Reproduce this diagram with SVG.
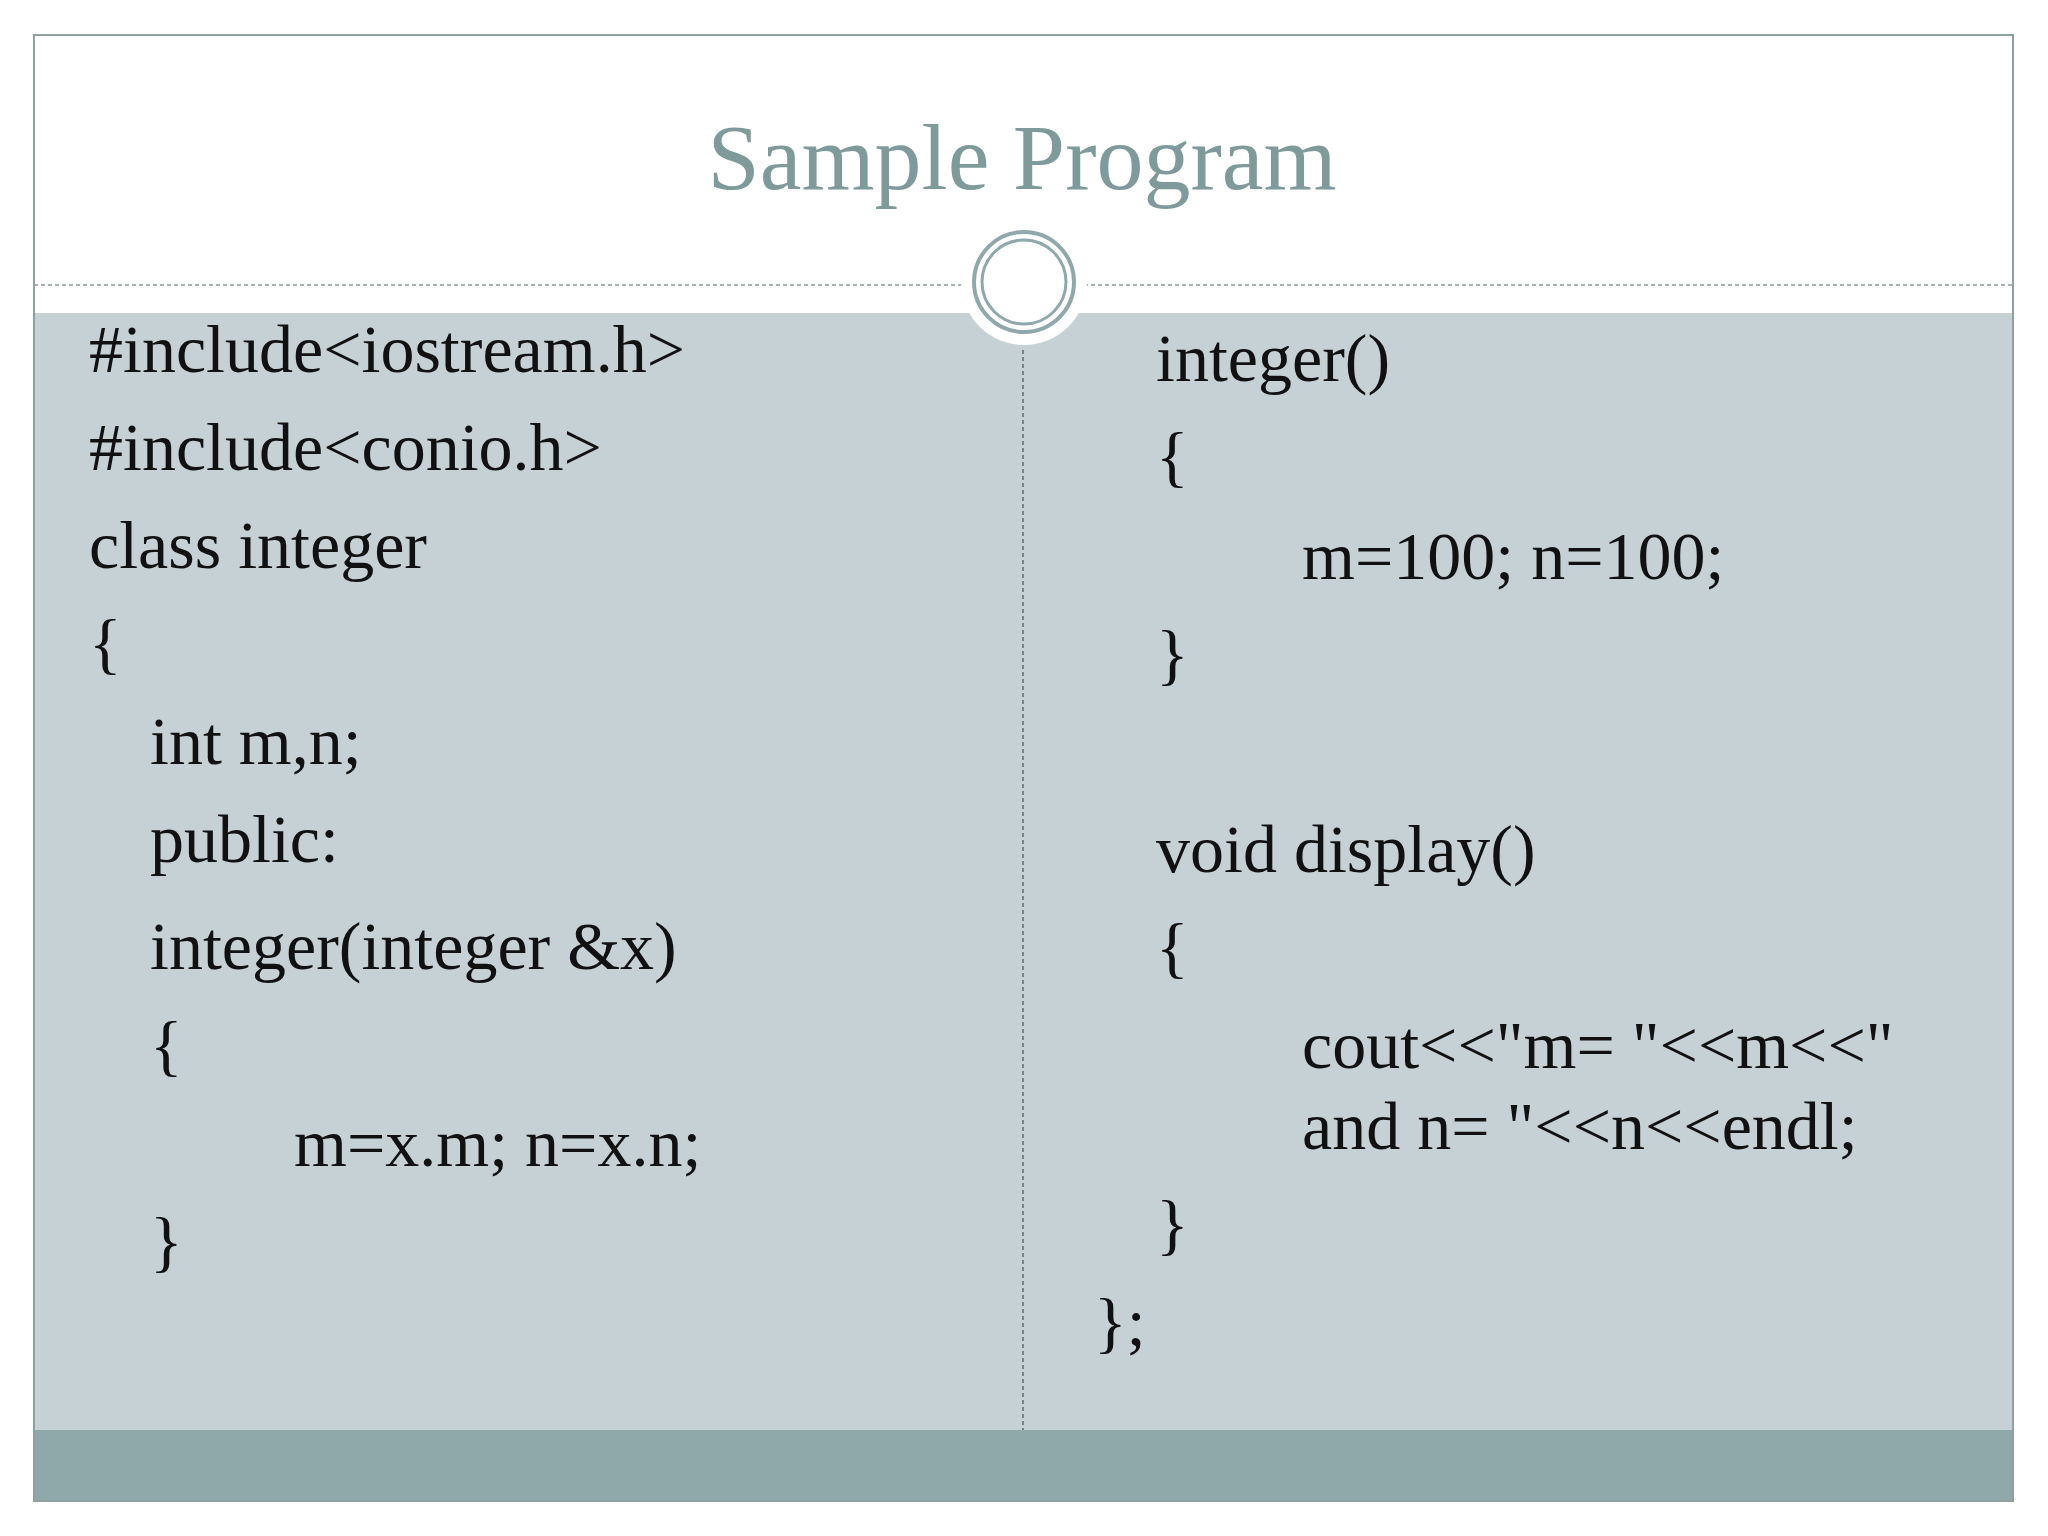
<svg xmlns="http://www.w3.org/2000/svg" width="2048" height="1536" viewBox="0 0 2048 1536">
<style>
.c{font-family:"Liberation Serif","DejaVu Serif",serif;font-size:68px;fill:#111}
</style>
<rect width="2048" height="1536" fill="#fff"/>
<rect x="34" y="313" width="1979" height="1117" fill="#c6d1d6"/>
<rect x="34" y="1430" width="1979" height="71" fill="#8fa9ab"/>
<rect x="34" y="35" width="1979" height="1466" fill="none" stroke="#8fa0a0" stroke-width="2"/>
<line x1="34" y1="285" x2="2013" y2="285" stroke="#8a9c9c" stroke-width="1.5" stroke-dasharray="4,3"/>
<line x1="1023" y1="350" x2="1023" y2="1430" stroke="#666" stroke-width="1.5" stroke-dasharray="4,3"/>
<circle cx="1024" cy="282" r="63" fill="#fff"/>
<circle cx="1024" cy="282" r="50" fill="#fff" stroke="#8fa9ab" stroke-width="4"/>
<circle cx="1024" cy="282" r="42" fill="#fff" stroke="#8fa9ab" stroke-width="3"/>
<text x="1022" y="189" text-anchor="middle" font-family="Liberation Serif,serif" font-size="94" fill="#7f9a9a">Sample Program</text>
<g id="left">
<text class="c" x="89" y="372">#include&lt;iostream.h&gt;</text>
<text class="c" x="89" y="470">#include&lt;conio.h&gt;</text>
<text class="c" x="89" y="568">class integer</text>
<text class="c" x="89" y="666">{</text>
<text class="c" x="150" y="764">int m,n;</text>
<text class="c" x="150" y="862">public:</text>
<text class="c" x="150" y="969">integer(integer &amp;x)</text>
<text class="c" x="150" y="1068">{</text>
<text class="c" x="294" y="1166">m=x.m; n=x.n;</text>
<text class="c" x="150" y="1264">}</text>
</g>
<g id="right">
<text class="c" x="1156" y="381">integer()</text>
<text class="c" x="1156" y="479">{</text>
<text class="c" x="1302" y="579">m=100; n=100;</text>
<text class="c" x="1156" y="677">}</text>
<text class="c" x="1156" y="872">void display()</text>
<text class="c" x="1156" y="970">{</text>
<text class="c" x="1302" y="1068">cout&lt;&lt;"m= "&lt;&lt;m&lt;&lt;"</text>
<text class="c" x="1302" y="1149">and n= "&lt;&lt;n&lt;&lt;endl;</text>
<text class="c" x="1156" y="1247">}</text>
<text class="c" x="1094" y="1345">};</text>
</g>
</svg>
